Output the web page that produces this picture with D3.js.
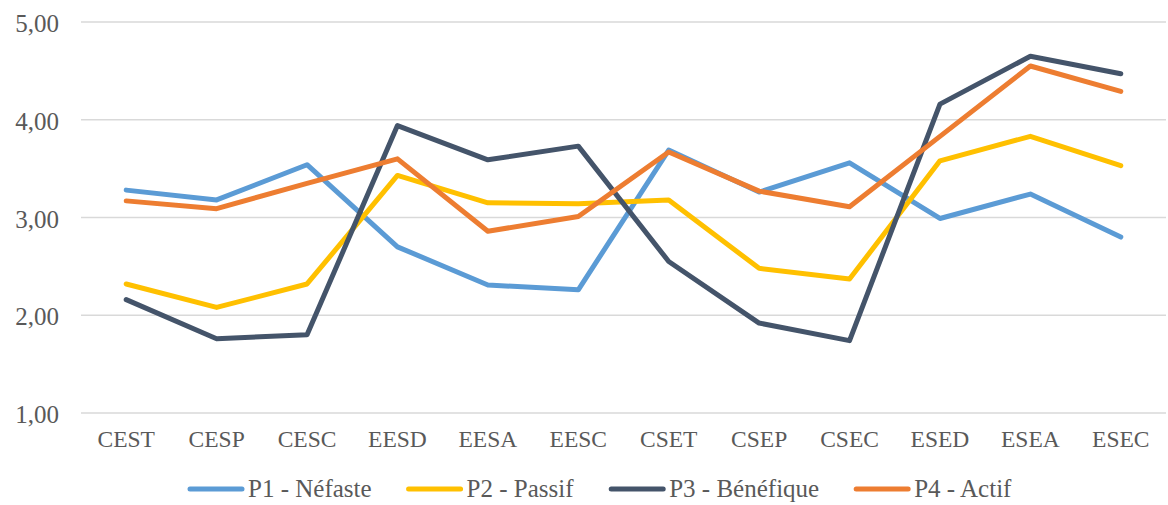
<!DOCTYPE html>
<html>
<head>
  <meta charset="utf-8">
  <title>Profils</title>
  <script src="https://cdnjs.cloudflare.com/ajax/libs/d3/7.8.5/d3.min.js"></script>
  <style>
    body { margin: 0; background: #fff; }
    svg, svg text { font-family: "Liberation Serif", "DejaVu Serif", serif; }
    svg { display: block; }
    .grid line { stroke: #d9d9d9; stroke-width: 1.5; }
    .axis text { fill: #595959; }
    .serie { fill: none; stroke-width: 5; stroke-linejoin: round; stroke-linecap: round; }
  </style>
</head>
<body>
<svg id="chart" width="1168" height="505"></svg>
<script>
  var categories = ["CEST", "CESP", "CESC", "EESD", "EESA", "EESC", "CSET", "CSEP", "CSEC", "ESED", "ESEA", "ESEC"];
  var p1 = [3.28, 3.18, 3.54, 2.70, 2.31, 2.26, 3.69, 3.26, 3.56, 2.99, 3.24, 2.80];
  var p2 = [2.32, 2.08, 2.32, 3.43, 3.15, 3.14, 3.18, 2.48, 2.37, 3.58, 3.83, 3.53];
  var p3 = [2.16, 1.76, 1.80, 3.94, 3.59, 3.73, 2.55, 1.92, 1.74, 4.16, 4.65, 4.47];
  var p4 = [3.17, 3.09, 3.35, 3.60, 2.86, 3.01, 3.67, 3.27, 3.11, 3.83, 4.55, 4.29];
  var seriesNames = ["P1 - Néfaste", "P2 - Passif", "P3 - Bénéfique", "P4 - Actif"];
  var colors = ["#5b9bd5", "#ffc000", "#44546a", "#ed7d31"];
  var yTicks = [1, 2, 3, 4, 5];

  var series = [p1, p2, p3, p4];
  var svg = d3.select("#chart");
  var mLeft = 81, mRight = 1166, mTop = 22, mBottom = 413;

  var x = d3.scaleBand().domain(categories).range([mLeft, mRight]);
  var y = d3.scaleLinear().domain([1, 5]).range([mBottom, mTop]);
  var fmt = function (v) { return d3.format(".2f")(v).replace(".", ","); };

  // gridlines
  svg.append("g").attr("class", "grid")
    .selectAll("line").data(yTicks).enter().append("line")
    .attr("x1", mLeft).attr("x2", mRight)
    .attr("y1", function (d) { return y(d); })
    .attr("y2", function (d) { return y(d); });

  // y axis labels
  var yAxis = svg.append("g").attr("class", "axis")
    .attr("transform", "translate(59,0)")
    .call(d3.axisLeft(y).tickValues(yTicks).tickFormat(fmt).tickSize(0).tickPadding(0));
  yAxis.attr("font-family", null);
  yAxis.select(".domain").remove();
  yAxis.selectAll("text").style("font-size", "25px").attr("dy", "0.38em");

  // x axis labels
  var xAxis = svg.append("g").attr("class", "axis")
    .attr("transform", "translate(0," + mBottom + ")")
    .call(d3.axisBottom(x).tickSize(0).tickPadding(17));
  xAxis.attr("font-family", null);
  xAxis.select(".domain").remove();
  xAxis.selectAll("text").style("font-size", "23.5px");

  var line = d3.line()
    .x(function (d, i) { return x(categories[i]) + x.bandwidth() / 2; })
    .y(function (d) { return y(d); });

  svg.selectAll("path.serie").data(series).enter().append("path")
    .attr("class", "serie")
    .attr("stroke", function (d, i) { return colors[i]; })
    .attr("d", line);

  // legend
  var legend = svg.append("g");
  var items = legend.selectAll("g").data(seriesNames).enter().append("g");
  items.append("line")
    .attr("x1", 2).attr("x2", 54).attr("y1", 0).attr("y2", 0)
    .attr("stroke", function (d, i) { return colors[i]; })
    .attr("stroke-width", 5).attr("stroke-linecap", "round");
  items.append("text")
    .attr("x", 60).attr("dy", "0.33em")
    .style("font-size", "25px").style("fill", "#595959")
    .text(function (d) { return d; });

  var widths = [];
  items.each(function () { widths.push(this.getBBox().width); });
  var gap = 37;
  var pos = 188;
  items.attr("transform", function (d, i) {
    var t = "translate(" + pos + ",489)";
    pos += widths[i] + gap;
    return t;
  });
</script>
</body>
</html>
